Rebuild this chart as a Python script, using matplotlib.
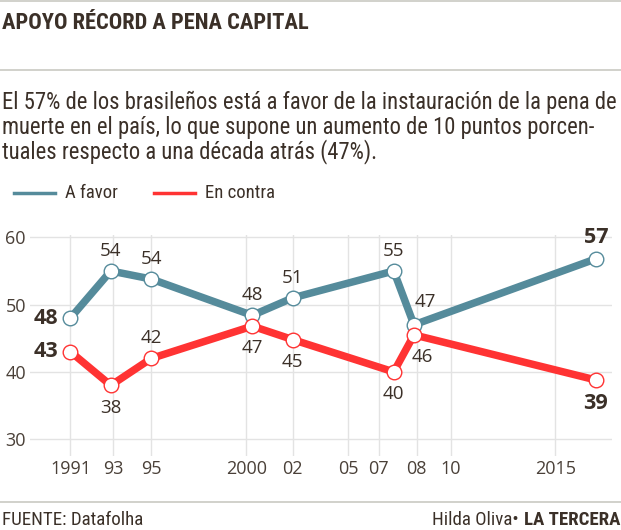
import matplotlib
matplotlib.use('Agg')
import matplotlib.pyplot as plt
from matplotlib import font_manager as fm
from matplotlib.lines import Line2D

# ---------------- data ----------------
years = [1991, 1993, 1995, 2000, 2002, 2007, 2008, 2017]
a_favor = [48, 55, 53.8, 48.4, 51, 55, 47, 56.8]
en_contra = [43, 38, 42, 46.8, 44.8, 40, 45.5, 38.8]
a_favor_labels = ['48', '54', '54', '48', '51', '55', '47', '57']
en_contra_labels = ['43', '38', '42', '47', '45', '40', '46', '39']
tick_labels = ['1991', '93', '95', '2000', '02', '05', '07', '08', '10', '2015']
y_ticks = [30, 40, 50, 60]
series_names = ['A favor', 'En contra']

title = 'APOYO RÉCORD A PENA CAPITAL'
subtitle = ['El 57% de los brasileños está a favor de la instauración de la pena de',
            'muerte en el país, lo que supone un aumento de 10 puntos porcen-',
            'tuales respecto a una década atrás (47%).']
source = 'FUENTE: Datafolha'
author = 'Hilda Oliva• '
brand = 'LA TERCERA'

# ---------------- styles ----------------
# tick/grid positions as placed in the original graphic (slightly irregular)
tick_pos = [1991, 1993.13, 1995, 1999.71, 2002, 2004.76, 2006.25, 2008.13, 2009.81, 2015]

names = {f.name for f in fm.fontManager.ttflist}
def pick(*cands):
    for c in cands:
        if c in names:
            return c
    return 'DejaVu Sans'

narrow = pick('Roboto Condensed', 'Liberation Sans Narrow', 'Roboto')
numf = pick('Open Sans', 'Lato', 'Roboto')

BLUE = '#558b9b'
RED = '#ff3333'
TXT = '#3b3028'
GRID = '#e3e3e3'
RULE = '#c9c9c2'

W, H = 621, 530
fig = plt.figure(figsize=(W / 100, H / 100), dpi=100)

def fy(py):
    return 1 - py / H

def fx(px):
    return px / W

# axes placement
ax_left, ax_right = 30, 612
ax_top, ax_bot = 235.3, 456
ax = fig.add_axes([fx(ax_left), fy(ax_bot), fx(ax_right - ax_left), (ax_bot - ax_top) / H])
ax.set_xlim(1989, 2017.8)
ax.set_ylim(27.5, 60.3)
for s in ax.spines.values():
    s.set_visible(False)
ax.set_xticks(tick_pos)
ax.set_xticklabels(tick_labels)
ax.set_yticks(y_ticks)
ax.tick_params(length=0, labelsize=13, labelcolor='#4a4038', pad=3)
ax.tick_params(axis='y', pad=3)
for lab in ax.get_xticklabels() + ax.get_yticklabels():
    lab.set_fontfamily(numf)
ax.grid(True, color=GRID, linewidth=1)
ax.set_axisbelow(True)

for vals, col in [(a_favor, BLUE), (en_contra, RED)]:
    ax.plot(years, vals, color=col, lw=5.4, solid_joinstyle='miter', zorder=3, clip_on=False)
    ax.plot(years, vals, 'o', ms=10.5, mfc='white', mec=col, mew=1, zorder=4, clip_on=False)

# label placement (offsets in points)
place_blue = ['left', 'above', 'above', 'above', 'above', 'above', 'aboveright', 'above']
place_red = ['left', 'below', 'above', 'below', 'below', 'below', 'belowright', 'below']
offs = {
    'left': ((-9, 0), 'right', 'center'),
    'above': ((0, 14.5), 'center', 'center'),
    'below': ((0, -16), 'center', 'center'),
    'aboveright': ((8, 16.5), 'center', 'center'),
    'belowright': ((6, -16), 'center', 'center'),
}
for vals, labs, places in [(a_favor, a_favor_labels, place_blue), (en_contra, en_contra_labels, place_red)]:
    n = len(vals)
    for i, (x, v, t, p) in enumerate(zip(years, vals, labs, places)):
        (dx, dy), ha, va = offs[p]
        bold = i == 0 or i == n - 1
        if bold and p == 'below':
            dy -= 1
        if bold and p == 'above':
            dy += 1
        ax.annotate(t, (x, v), xytext=(dx, dy), textcoords='offset points',
                    ha=ha, va=va, fontsize=15.5 if bold else 13.5,
                    fontweight='bold' if bold else 'normal', color=TXT,
                    family=numf, zorder=5, annotation_clip=False)

# rules
for py in [1, 70, 502]:
    fig.add_artist(Line2D([0, 1], [fy(py), fy(py)], color=RULE, lw=1.2))

# texts
t_title = fig.text(fx(2), fy(23), title, fontsize=17, fontweight='heavy', color=TXT,
                   family=narrow, va='center', ha='left')
sub_objs = []
for i, line in enumerate(subtitle):
    sub_objs.append(fig.text(fx(2), fy(102 + 25 * i), line, fontsize=13, color=TXT,
                             family=narrow, va='center', ha='left'))

# legend
leg_y = 193
fig.add_artist(Line2D([fx(14), fx(55)], [fy(leg_y), fy(leg_y)], color=BLUE, lw=2.5))
fig.add_artist(Line2D([fx(154), fx(195)], [fy(leg_y), fy(leg_y)], color=RED, lw=2.5))
t_l1 = fig.text(fx(65), fy(leg_y), series_names[0], fontsize=13, color=TXT, family=narrow, va='center')
t_l2 = fig.text(fx(205), fy(leg_y), series_names[1], fontsize=13, color=TXT, family=narrow, va='center')

t_src = fig.text(fx(2), fy(520), source, fontsize=11, color=TXT, family=narrow, va='center')
t_brand = fig.text(fx(620), fy(520), brand, fontsize=11, fontweight='bold', color=TXT,
                   family=narrow, va='center', ha='right')

fig.canvas.draw()
r = fig.canvas.get_renderer()

def fit(t, target):
    w = t.get_window_extent(r).width
    t.set_fontsize(t.get_fontsize() * target / w)

fit(t_title, 308)
fit(sub_objs[0], 611)
for s in sub_objs[1:]:
    s.set_fontsize(sub_objs[0].get_fontsize())
fit(t_l1, 53)
t_l2.set_fontsize(t_l1.get_fontsize())
fit(t_src, 140)
t_brand.set_fontsize(t_src.get_fontsize())
fig.canvas.draw()
bx0 = t_brand.get_window_extent(r).x0
t_auth = fig.text(bx0 / W, fy(520), author, fontsize=t_src.get_fontsize(), color=TXT,
                  family=narrow, va='center', ha='right')

fig.savefig('out.png', dpi=100)
